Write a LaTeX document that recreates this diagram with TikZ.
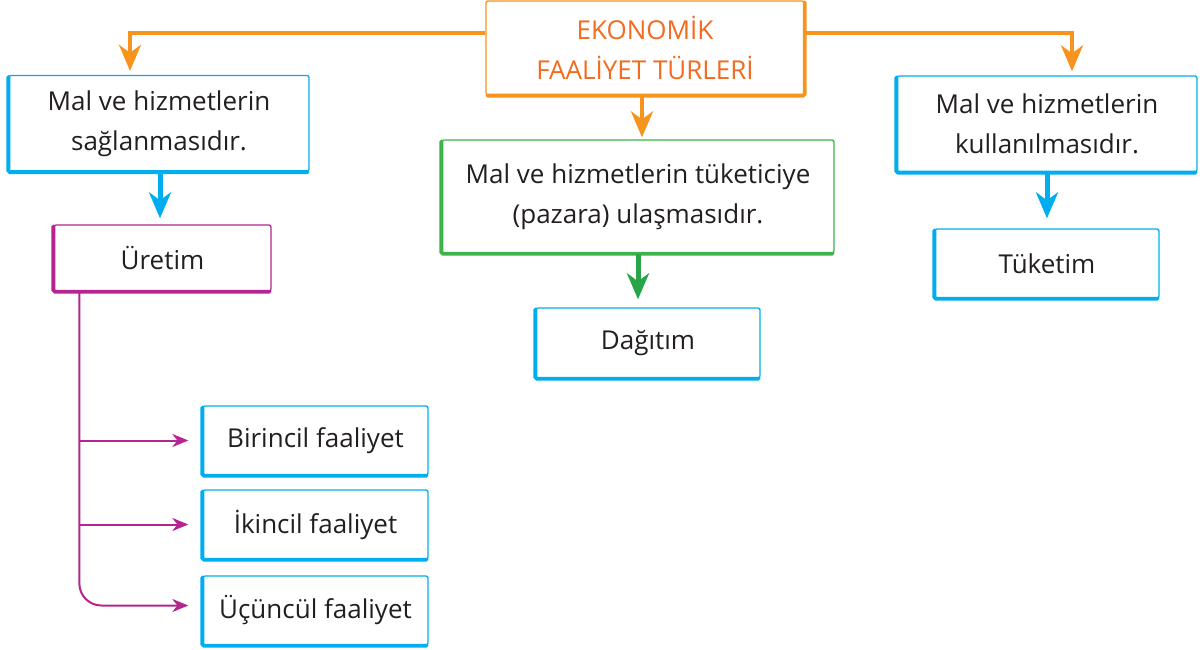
\documentclass[tikz,border=0pt]{standalone}
\usepackage{fontspec}
\setmainfont{Open Sans}
\usetikzlibrary{arrows.meta}

\definecolor{turuncu}{RGB}{247,148,29}
\definecolor{turuncuyazi}{RGB}{242,107,33}
\definecolor{mavi}{RGB}{0,174,239}
\definecolor{mor}{RGB}{181,36,143}
\definecolor{yesil}{RGB}{61,179,74}
\definecolor{koyuyesil}{RGB}{40,165,70}
\definecolor{yazi}{RGB}{35,31,32}

\tikzset{every picture/.style={line width=0.75pt}}
\tikzset{
  kutu/.style={draw=#1, line width=1.3pt, rounded corners=2pt, fill=white, inner sep=0pt,
    align=center, text=yazi, font=\fontsize{26}{40}\selectfont},
  kalin/.style={line width=3.8pt, line cap=round, rounded corners=1.5pt},
  kalok/.style={line width=5pt, -{Stealth[length=26pt,width=22pt,inset=8pt]}},
  ince/.style={line width=2pt, -{Stealth[length=16pt,width=13pt,inset=5pt]}}
}

\begin{document}
\begin{tikzpicture}[x=1pt,y=-1pt]
\useasboundingbox [fill=white] (0,0) rectangle (1200,650);

\draw (645,48) node [kutu=turuncu, minimum width=318, minimum height=94, text=turuncuyazi] (ana) {EKONOMİK\\FAALİYET TÜRLERİ};
\draw (159,123.5) node [kutu=mavi, minimum width=300, minimum height=96] (saglama) {Mal ve hizmetlerin\\sağlanmasıdır.};
\draw (638,196.5) node [kutu=yesil, minimum width=392, minimum height=113] (ulasma) {Mal ve hizmetlerin tüketiciye\\(pazara) ulaşmasıdır.};
\draw (1047,124) node [kutu=mavi, minimum width=300, minimum height=96] (kullanma) {Mal ve hizmetlerin\\kullanılmasıdır.};

\draw (162.5,258) node [kutu=mor, minimum width=217, minimum height=66] (uretim) {Üretim};
\draw (648,343) node [kutu=mavi, minimum width=224, minimum height=70] (dagitim) {Dağıtım};
\draw (1047,263.5) node [kutu=mavi, minimum width=224, minimum height=69] (tuketim) {Tüketim};

\draw (315.5,440.5) node [kutu=mavi, minimum width=225, minimum height=69] (birincil) {Birincil faaliyet};
\draw (315.5,524.5) node [kutu=mavi, minimum width=225, minimum height=69] (ikincil) {İkincil faaliyet};
\draw (315.5,610.5) node [kutu=mavi, minimum width=225, minimum height=69] (ucuncul) {Üçüncül faaliyet};

% kalin kenarlar
\draw [kalin, turuncu] ([yshift=-2]ana.north east) -- (ana.south east) -- ([xshift=2]ana.south west);
\draw [kalin, mavi] ([yshift=-2]saglama.north west) -- (saglama.south west) -- ([xshift=-2]saglama.south east);
\draw [kalin, yesil] ([yshift=-2]ulasma.north west) -- (ulasma.south west) -- ([xshift=-2]ulasma.south east);
\draw [kalin, mavi] ([yshift=-2]kullanma.north west) -- (kullanma.south west) -- ([xshift=-2]kullanma.south east);
\draw [kalin, mor] ([yshift=-2]uretim.north west) -- (uretim.south west) -- ([xshift=-2]uretim.south east);
\draw [kalin, mavi] ([yshift=-2]dagitim.north west) -- (dagitim.south west) -- ([xshift=-2]dagitim.south east);
\draw [kalin, mavi] ([yshift=-2]tuketim.north west) -- (tuketim.south west) -- ([xshift=-2]tuketim.south east);
\draw [kalin, mavi] ([yshift=-2]birincil.north west) -- (birincil.south west) -- ([xshift=-2]birincil.south east);
\draw [kalin, mavi] ([yshift=-2]ikincil.north west) -- (ikincil.south west) -- ([xshift=-2]ikincil.south east);
\draw [kalin, mavi] ([yshift=-2]ucuncul.north west) -- (ucuncul.south west) -- ([xshift=-2]ucuncul.south east);

% oklar
\draw [kalok, turuncu, line width=4pt] ([yshift=15]ana.west) -| ([xshift=-29,yshift=4]saglama.north);
\draw [kalok, turuncu, line width=4pt] ([yshift=15]ana.east) -| ([xshift=25,yshift=4]kullanma.north);
\draw [kalok, turuncu, line width=4pt] ([xshift=-3]ana.south) -- ([xshift=-3,yshift=2]ana.south |- ulasma.north);
\draw [kalok, mavi] ([xshift=1]saglama.south) -- ([xshift=1,yshift=6]saglama.south |- uretim.north);
\draw [kalok, koyuyesil] (ulasma.south) -- ([yshift=8]ulasma.south |- dagitim.north);
\draw [kalok, mavi] (kullanma.south) -- ([yshift=10]tuketim.north);

\coordinate (govde) at ([xshift=26]uretim.south west);
\draw [ince, mor] (govde |- birincil.west) -- ([xshift=-14]birincil.west);
\draw [ince, mor] (govde |- ikincil.west) -- ([xshift=-14]ikincil.west);
\draw [ince, mor, rounded corners=22] (govde) |- ([xshift=-14,yshift=5]ucuncul.west);

\end{tikzpicture}
\end{document}
